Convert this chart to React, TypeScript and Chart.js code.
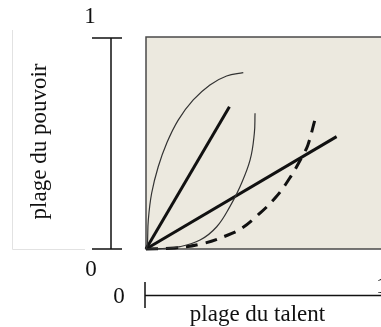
import React, { useEffect, useRef } from "react";
import { Chart, registerables } from "chart.js";

Chart.register(...registerables);

// ---- data ----
const xTitle = "plage du talent";
const yTitle = "plage du pouvoir";
const xTickLabels = ["0", "1"];
const yTickLabels = ["0", "1"];

const steepLineX = [0, 0.355];
const steepLineY = [0, 0.671];

const shallowLineX = [0, 0.811];
const shallowLineY = [0, 0.53];

const dashedCurveX = [0, 0.123, 0.243, 0.349, 0.409, 0.472, 0.553, 0.617, 0.668, 0.689, 0.719];
const dashedCurveY = [0, 0.005, 0.026, 0.066, 0.099, 0.156, 0.245, 0.344, 0.443, 0.491, 0.61];

const leftLoopX = [0, 0.0055, 0.0098, 0.024, 0.052, 0.088, 0.137, 0.201, 0.272, 0.343, 0.414];
const leftLoopY = [0, 0.019, 0.137, 0.263, 0.388, 0.499, 0.608, 0.703, 0.774, 0.816, 0.832];

const rightLoopX = [0, 0.06, 0.145, 0.23, 0.301, 0.357, 0.4, 0.443, 0.461, 0.464];
const rightLoopY = [0, 0.002, 0.011, 0.042, 0.105, 0.2, 0.294, 0.42, 0.546, 0.64];

const toPoints = (xs: number[], ys: number[]) => xs.map((x, i) => ({ x, y: ys[i] }));

const FONT = '"Liberation Serif", "Times New Roman", serif';

const decorPlugin = {
  id: "decor",
  beforeDatasetsDraw(chart: any) {
    const { ctx, chartArea } = chart;
    const { left, top, bottom, right } = chartArea;
    ctx.save();
    ctx.fillStyle = "#ECE9DF";
    ctx.fillRect(left, top, right - left + 5, bottom - top);
    ctx.strokeStyle = "#4a4a4a";
    ctx.lineWidth = 1.5;
    ctx.beginPath();
    ctx.moveTo(right + 5, top);
    ctx.lineTo(left, top);
    ctx.lineTo(left, bottom);
    ctx.lineTo(right + 5, bottom);
    ctx.stroke();
    ctx.restore();
  },
  afterDraw(chart: any) {
    const { ctx } = chart;
    const xs = chart.scales.x;
    const ys = chart.scales.y;
    const y0 = ys.getPixelForValue(0);
    const y1 = ys.getPixelForValue(1);
    const x0 = xs.getPixelForValue(0);
    const x1 = xs.getPixelForValue(1);
    ctx.save();

    // faint box around y title
    ctx.strokeStyle = "#e2e2e2";
    ctx.lineWidth = 1;
    ctx.beginPath();
    ctx.moveTo(12.5, y1 - 7);
    ctx.lineTo(12.5, y0 + 0.5);
    ctx.lineTo(85, y0 + 0.5);
    ctx.stroke();

    // detached y axis
    const ax = 111;
    ctx.strokeStyle = "#111";
    ctx.lineWidth = 1.5;
    ctx.beginPath();
    ctx.moveTo(ax, y1 + 1);
    ctx.lineTo(ax, y0);
    ctx.moveTo(92, y1 + 1);
    ctx.lineTo(122, y1 + 1);
    ctx.moveTo(92, y0);
    ctx.lineTo(122, y0);
    ctx.stroke();

    // detached x axis
    const axY = 295.5;
    ctx.beginPath();
    ctx.moveTo(x0 - 1, 282);
    ctx.lineTo(x0 - 1, 308);
    ctx.moveTo(x0 - 1, axY);
    ctx.lineTo(x1 + 5, axY);
    ctx.stroke();

    ctx.fillStyle = "#111";
    ctx.font = `23px ${FONT}`;
    ctx.textAlign = "center";
    ctx.textBaseline = "alphabetic";
    ctx.fillText(yTickLabels[1], 90, 23);
    ctx.fillText(yTickLabels[0], 91, 276);
    ctx.fillText(xTickLabels[0], 119, 303);
    ctx.textAlign = "left";
    ctx.fillText(xTickLabels[1], x1 - 5, 293);

    ctx.textAlign = "center";
    ctx.fillText(xTitle, 257.5, 321);

    ctx.translate(40, 141.5);
    ctx.rotate(-Math.PI / 2);
    ctx.textBaseline = "middle";
    ctx.fillText(yTitle, 0, 0);
    ctx.restore();
  },
};

export default function App() {
  const ref = useRef<HTMLCanvasElement>(null);
  useEffect(() => {
    if (!ref.current) return;
    const thick = { borderColor: "#111", borderWidth: 3, pointRadius: 0, clip: false as any, fill: false };
    const thin = { borderColor: "#333", borderWidth: 1.2, pointRadius: 0, clip: false as any, fill: false, tension: 0.4 };
    const chart = new Chart(ref.current, {
      type: "line",
      data: {
        datasets: [
          { ...thin, label: "a", data: toPoints(leftLoopX, leftLoopY) },
          { ...thin, label: "b", data: toPoints(rightLoopX, rightLoopY) },
          { ...thick, label: "c", data: toPoints(steepLineX, steepLineY) },
          { ...thick, label: "d", data: toPoints(shallowLineX, shallowLineY) },
          {
            ...thick,
            label: "e",
            borderDash: [12, 8],
            tension: 0.4,
            data: toPoints(dashedCurveX, dashedCurveY),
          },
        ],
      },
      options: {
        animation: false,
        responsive: false,
        events: [],
        layout: { padding: { left: 146, top: 37, right: 0, bottom: 78 } },
        plugins: { legend: { display: false }, tooltip: { enabled: false } },
        scales: {
          x: { type: "linear", min: 0, max: 1, display: false },
          y: { type: "linear", min: 0, max: 1, display: false },
        },
      },
      plugins: [decorPlugin],
    });
    return () => chart.destroy();
  }, []);
  return (
    <div style={{ position: "absolute", left: 0, top: 0, width: 381, height: 327, background: "#fff" }}>
      <canvas ref={ref} width={381} height={327} style={{ display: "block" }} />
    </div>
  );
}
